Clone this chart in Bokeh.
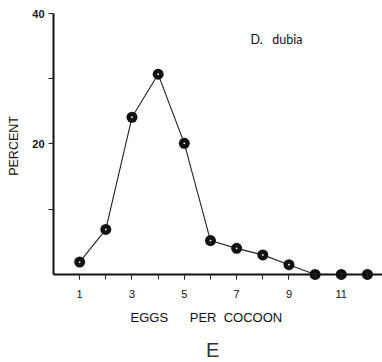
import math
from bokeh.plotting import figure
from bokeh.models import Range1d, FixedTicker, Label, LinearAxis
from bokeh.embed import file_html
from bokeh.resources import INLINE

eggs = [1, 2, 3, 4, 5, 6, 7, 8, 9, 10, 11, 12]
percent = [1.9, 6.9, 24.1, 30.7, 20.1, 5.2, 4.0, 3.0, 1.5, 0.0, 0.0, 0.0]
x_major = [1, 3, 5, 7, 9, 11]
x_minor = [1, 2, 3, 4, 5, 6, 7, 8, 9, 10, 11, 12]
y_major = [20, 40]
y_minor = [10, 30]

p = figure(width=382, height=362, output_backend="svg", toolbar_location=None,
           x_range=Range1d(-2.026, 12.576), y_range=Range1d(-13.5, 42),
           x_axis_type=None, y_axis_type=None,
           min_border_left=0, min_border_right=0, min_border_top=0, min_border_bottom=0)
p.outline_line_color = None
p.xgrid.visible = False
p.ygrid.visible = False
p.background_fill_color = "white"
p.border_fill_color = "white"

xaxis = LinearAxis(fixed_location=0, bounds=(0, 12.576),
                   ticker=FixedTicker(ticks=x_major, minor_ticks=x_minor))
xaxis.axis_line_width = 2
xaxis.axis_line_color = "#111111"
xaxis.major_tick_in = 0
xaxis.major_tick_out = 5
xaxis.minor_tick_in = 0
xaxis.minor_tick_out = 5
xaxis.major_tick_line_color = "#222222"
xaxis.minor_tick_line_color = "#222222"
xaxis.major_label_text_font = "Liberation Sans"
xaxis.major_label_text_font_size = "11px"
xaxis.major_label_text_color = "#111111"
xaxis.major_label_standoff = 11
p.add_layout(xaxis, "below")

yaxis = LinearAxis(fixed_location=0, bounds=(0, 40),
                   ticker=FixedTicker(ticks=y_major, minor_ticks=y_minor))
yaxis.axis_line_width = 2
yaxis.axis_line_color = "#111111"
yaxis.major_tick_in = 0
yaxis.major_tick_out = 5
yaxis.minor_tick_in = 0
yaxis.minor_tick_out = 5
yaxis.major_tick_line_color = "#222222"
yaxis.minor_tick_line_color = "#222222"
yaxis.major_label_text_font = "Liberation Sans"
yaxis.major_label_text_font_size = "11px"
yaxis.major_label_text_font_style = "bold"
yaxis.major_label_text_color = "#111111"
yaxis.major_label_standoff = 4
p.add_layout(yaxis, "left")

p.line(eggs, percent, line_color="#222222", line_width=1.1)
p.circle(eggs, percent, radius=5.5, radius_units="screen",
         fill_color="#111111", line_color=None)
p.circle(eggs, percent, radius=0.9, radius_units="screen",
         fill_color="white", line_color=None)

p.add_layout(Label(x=-1.51, y=19.7, text="PERCENT", text_font="Liberation Sans",
                   text_font_size="12.5px", text_color="#111111", angle=math.pi / 2,
                   text_baseline="middle", text_align="center"))
p.add_layout(Label(x=7.53, y=36.0,
                   text="D.\u00a0\u00a0\u00a0dubia", text_font="Lato",
                   text_font_size="12.5px", text_color="#111111",
                   text_baseline="middle", text_align="left"))
p.add_layout(Label(x=2.943, y=-6.67,
                   text="EGGS\u00a0\u00a0\u00a0\u00a0\u00a0\u00a0PER\u00a0\u00a0COCOON",
                   text_font="Liberation Sans", text_font_size="13px",
                   text_color="#111111", text_baseline="middle", text_align="left"))
p.add_layout(Label(x=6.08, y=-11.57, text="E", text_font="Liberation Sans",
                   text_font_size="20px", text_color="#333333",
                   text_baseline="middle", text_align="center"))

open("out.html", "w").write(file_html(p, INLINE))
